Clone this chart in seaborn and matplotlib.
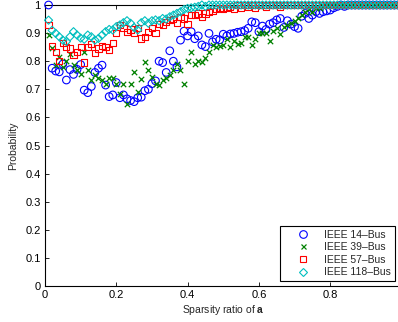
import numpy as np
import pandas as pd
import matplotlib
matplotlib.use("Agg")
import matplotlib.pyplot as plt
import seaborn as sns
from matplotlib.lines import Line2D

# Sparsity ratios of the attack vector a (0.01 ... 0.99)
sparsity = np.arange(1, 100) / 100.0

# Probability of successful recovery for each test system
ieee14 = [
    1.000, 0.775, 0.765, 0.762, 0.790, 0.733, 0.770, 0.753, 0.771, 0.788,
    0.697, 0.688, 0.710, 0.760, 0.775, 0.786, 0.715, 0.674, 0.680, 0.724,
    0.670, 0.680, 0.666, 0.660, 0.656, 0.670, 0.672, 0.695, 0.700, 0.720,
    0.730, 0.800, 0.795, 0.760, 0.837, 0.800, 0.780, 0.875, 0.907, 0.890,
    0.905, 0.880, 0.890, 0.858, 0.852, 0.899, 0.869, 0.878, 0.876, 0.896,
    0.890, 0.897, 0.899, 0.903, 0.905, 0.909, 0.917, 0.940, 0.937, 0.905,
    0.925, 0.913, 0.932, 0.937, 0.947, 0.952, 0.920, 0.944, 0.932, 0.923,
    0.917, 0.960, 0.970, 0.952, 0.964, 0.976, 0.970, 0.976, 0.979, 0.982,
    0.990, 0.995, 1.000, 0.995, 1.000, 1.000, 1.000, 1.000, 1.000, 1.000,
    1.000, 1.000, 1.000, 1.000, 1.000, 1.000, 1.000, 1.000, 1.000,
]
ieee39 = [
    0.893, 0.846, 0.787, 0.816, 0.780, 0.800, 0.825, 0.787, 0.770, 0.755,
    0.834, 0.770, 0.733, 0.750, 0.740, 0.733, 0.720, 0.740, 0.740, 0.720,
    0.684, 0.720, 0.648, 0.720, 0.760, 0.690, 0.735, 0.798, 0.770, 0.743,
    0.720, 0.715, 0.733, 0.740, 0.750, 0.770, 0.790, 0.770, 0.720, 0.800,
    0.834, 0.790, 0.800, 0.798, 0.813, 0.834, 0.858, 0.852, 0.854, 0.858,
    0.878, 0.849, 0.873, 0.861, 0.863, 0.885, 0.885, 0.858, 0.878, 0.899,
    0.899, 0.901, 0.873, 0.907, 0.917, 0.897, 0.920, 0.929, 0.935, 0.944,
    0.952, 0.964, 0.976, 0.984, 0.976, 0.988, 0.988, 0.995, 1.000, 1.000,
    1.000, 1.000, 1.000, 1.000, 1.000, 1.000, 1.000, 1.000, 1.000, 1.000,
    1.000, 1.000, 1.000, 1.000, 1.000, 1.000, 1.000, 1.000, 1.000,
]
ieee57 = [
    0.929, 0.854, 0.834, 0.802, 0.866, 0.850, 0.845, 0.822, 0.834, 0.851,
    0.795, 0.851, 0.860, 0.830, 0.845, 0.854, 0.851, 0.840, 0.864, 0.899,
    0.929, 0.917, 0.905, 0.913, 0.899, 0.917, 0.881, 0.885, 0.905, 0.917,
    0.899, 0.932, 0.929, 0.940, 0.946, 0.950, 0.935, 0.956, 0.952, 0.932,
    0.964, 0.964, 0.970, 0.958, 0.970, 0.976, 0.980, 0.985, 0.990, 0.985,
    0.990, 0.995, 0.985, 1.000, 0.990, 1.000, 0.995, 1.000, 0.990, 1.000,
    1.000, 0.995, 1.000, 1.000, 1.000, 0.995, 1.000, 1.000, 1.000, 1.000,
    1.000, 1.000, 1.000, 1.000, 1.000, 1.000, 1.000, 1.000, 1.000, 1.000,
    1.000, 1.000, 1.000, 1.000, 1.000, 1.000, 1.000, 1.000, 1.000, 1.000,
    1.000, 1.000, 1.000, 1.000, 1.000, 1.000, 1.000, 1.000, 1.000,
]
ieee118 = [
    0.946, 0.910, 0.899, 0.887, 0.875, 0.870, 0.887, 0.905, 0.893, 0.882,
    0.878, 0.893, 0.887, 0.875, 0.881, 0.893, 0.905, 0.913, 0.911, 0.923,
    0.929, 0.937, 0.944, 0.935, 0.920, 0.911, 0.937, 0.944, 0.935, 0.944,
    0.947, 0.944, 0.952, 0.950, 0.958, 0.964, 0.970, 0.976, 0.984, 0.988,
    0.990, 0.992, 0.995, 1.000, 0.995, 1.000, 1.000, 1.000, 1.000, 1.000,
    1.000, 1.000, 1.000, 1.000, 1.000, 1.000, 1.000, 1.000, 1.000, 1.000,
    1.000, 1.000, 1.000, 1.000, 1.000, 1.000, 1.000, 1.000, 1.000, 1.000,
    1.000, 1.000, 1.000, 1.000, 1.000, 1.000, 1.000, 1.000, 1.000, 1.000,
    1.000, 1.000, 1.000, 1.000, 1.000, 1.000, 1.000, 1.000, 1.000, 1.000,
    1.000, 1.000, 1.000, 1.000, 1.000, 1.000, 1.000, 1.000, 1.000,
]

series_labels = ["IEEE 14\u2013Bus", "IEEE 39\u2013Bus", "IEEE 57\u2013Bus", "IEEE 118\u2013Bus"]
x_ticks = [0, 0.2, 0.4, 0.6, 0.8, 1.0]
x_tick_labels = ["0", "0.2", "0.4", "0.6", "0.8", ""]
y_ticks = [0, 0.1, 0.2, 0.3, 0.4, 0.5, 0.6, 0.7, 0.8, 0.9, 1.0]
y_tick_labels = ["0", "0.1", "0.2", "0.3", "0.4", "0.5", "0.6", "0.7", "0.8", "0.9", "1"]

sns.set_style("ticks", {"xtick.direction": "in", "ytick.direction": "in"})
plt.rcParams["font.family"] = ["Liberation Sans", "DejaVu Sans"]
plt.rcParams["mathtext.fontset"] = "custom"
plt.rcParams["mathtext.rm"] = "Liberation Sans"
plt.rcParams["mathtext.bf"] = "Liberation Sans:bold"

fig = plt.figure(figsize=(3.98, 3.22), dpi=100)
ax = fig.add_axes([45 / 398, 1 - 286 / 322, 356.5 / 398, 281 / 322])

styles = [
    dict(marker="o", s=30, color=(0, 0, 1)),
    dict(marker="x", s=15, color=(0, 0.5, 0)),
    dict(marker="s", s=20, color=(1, 0, 0)),
    dict(marker="D", s=17, color=(0, 0.75, 0.75)),
]
all_series = [ieee14, ieee39, ieee57, ieee118]

for z, (vals, st) in enumerate(zip(all_series, styles)):
    df = pd.DataFrame({"sparsity": sparsity, "prob": vals})
    if st["marker"] == "x":
        sns.scatterplot(data=df, x="sparsity", y="prob", ax=ax, marker="x",
                        s=st["s"], color=st["color"], linewidth=0.9,
                        clip_on=False, zorder=3 + z, legend=False)
    else:
        sns.scatterplot(data=df, x="sparsity", y="prob", ax=ax, marker=st["marker"],
                        s=st["s"], color=st["color"], facecolors="none",
                        edgecolor=st["color"], linewidth=0.8,
                        clip_on=False, zorder=3 + z, legend=False)

ax.set_xlim(0, 1)
ax.set_ylim(0, 1)
ax.set_xticks(x_ticks)
ax.set_xticklabels(x_tick_labels)
ax.set_yticks(y_ticks)
ax.set_yticklabels(y_tick_labels)
ax.tick_params(axis="both", which="both", direction="in", length=3, width=0.6,
               top=True, right=True, labelsize=8, pad=3, colors="black")
for sp in ax.spines.values():
    sp.set_visible(True)
    sp.set_linewidth(0.8)
    sp.set_color("black")

ax.set_xlabel(r"Sparsity ratio of $\mathbf{a}$", fontsize=7.5, labelpad=2)
ax.set_ylabel("Probability", fontsize=7.5, labelpad=5)

handles = []
for st, lab in zip(styles, series_labels):
    if st["marker"] == "x":
        h = Line2D([], [], linestyle="none", marker="x", color=st["color"],
                   markersize=3.6, markeredgewidth=0.9)
    else:
        h = Line2D([], [], linestyle="none", marker=st["marker"],
                   markerfacecolor="none", markeredgecolor=st["color"],
                   markersize=np.sqrt(st["s"]), markeredgewidth=0.8)
    handles.append(h)

leg = ax.legend(handles, series_labels, loc="lower right",
                bbox_to_anchor=(395 / 398, (322 - 281) / 322),
                bbox_transform=fig.transFigure, fontsize=7.5, frameon=True,
                fancybox=False, framealpha=1, edgecolor="black",
                handlelength=3.6, handletextpad=0.3, labelspacing=0.25,
                borderpad=0.35, borderaxespad=0)
leg.get_frame().set_linewidth(0.8)

fig.savefig("out.png", dpi=100)
